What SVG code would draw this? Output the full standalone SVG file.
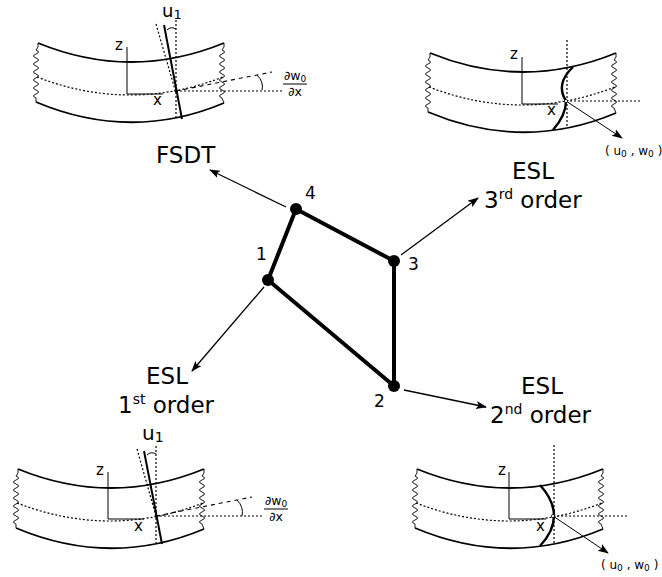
<svg xmlns="http://www.w3.org/2000/svg" xmlns:xlink="http://www.w3.org/1999/xlink" width="662" height="577" viewBox="0 0 662 577">
<style>
text{font-family:"DejaVu Sans",sans-serif;fill:#000}
.lab{font-size:23px}
.num{font-size:17px}
.small{font-size:12.5px}
.uw{font-size:12px}
.ax{font-size:15px}
.mid{text-anchor:middle}
.edge{stroke:#000;stroke-width:4;fill:none}
.arr{stroke:#000;stroke-width:1.3;fill:none;marker-end:url(#ah)}
.plate{stroke:#000;stroke-width:1.8;fill:none}
.wave{stroke:#000;stroke-width:.9;fill:none}
.dot{stroke:#000;stroke-width:1.2;stroke-dasharray:2 2;fill:none}
.dash{stroke:#000;stroke-width:1.1;stroke-dasharray:4 4;fill:none}
.thin{stroke:#000;stroke-width:1;fill:none}
.thick{stroke:#000;stroke-width:2;fill:none}
.bold{stroke:#000;stroke-width:2.4;fill:none}
</style>
<defs>
<marker id="ah" markerUnits="userSpaceOnUse" markerWidth="12" markerHeight="10" refX="10" refY="4" orient="auto"><path d="M0 0L11 4L0 8L2.5 4Z" fill="#000"/></marker>
<g id="plate">
<path class="plate" d="M38 43Q131 81 224 43"/>
<path class="plate" d="M36 102Q131 142 224 103"/>
<path class="wave" d="M38 43V47L36 50q5 2 0 4t0 4t0 4t0 4t0 4t0 4t0 4t0 4t0 4t0 4t0 4t0 4L36 102"/>
<path class="wave" d="M224 43V47L222 50q5 2 0 4t0 4t0 4t0 4t0 4t0 4t0 4t0 4t0 4t0 4t0 4t0 4L224 103"/>
<path class="dot" d="M37 77Q130 113 223 77"/>
</g>
</defs>
<g id="connectors">
<path class="edge" d="M268 280L296 209L394 261L394 386Z"/>
<path class="arr" d="M286 207L210 170"/>
<path class="arr" d="M401 255L478 198"/>
<path class="arr" d="M264 287L192 371"/>
<path class="arr" d="M404 390L486 407"/>
</g>
<g id="node1"><circle cx="268" cy="280" r="6"/><text class="num" x="256" y="260">1</text></g>
<g id="node2"><circle cx="394" cy="386" r="6"/><text class="num" x="374" y="407" font-size="16">2</text></g>
<g id="node3"><circle cx="394" cy="261" r="6"/><text class="num" x="408" y="270">3</text></g>
<g id="node4"><circle cx="296" cy="209" r="6"/><text class="num" x="305" y="199">4</text></g>
<g id="label-fsdt"><text class="lab" x="156" y="163">FSDT</text></g>
<g id="label-3rd"><text class="lab mid" x="533" y="179">ESL</text><text class="lab" x="484" y="208">3<tspan font-size="14" dy="-9">rd</tspan><tspan dy="9"> order</tspan></text></g>
<g id="label-1st"><text class="lab mid" x="167" y="384">ESL</text><text class="lab" x="118" y="413">1<tspan font-size="14" dy="-9">st</tspan><tspan dy="9"> order</tspan></text></g>
<g id="label-2nd"><text class="lab mid" x="542" y="394">ESL</text><text class="lab" x="490" y="423">2<tspan font-size="14" dy="-9">nd</tspan><tspan dy="9"> order</tspan></text></g>
<g id="panel-fsdt">
<use xlink:href="#plate" href="#plate"/>
<path class="thin" d="M127 94V47M127 94H163"/>
<path class="thick" d="M164 25L182 119"/>
<path class="dot" d="M176 20V118M156 24L176 93M176 91H282"/>
<path class="dash" d="M176 91L272 72"/>
<path class="thin" d="M257 75Q264 82 262 90M167 30Q171 26 176 29"/>
<circle cx="176" cy="91" r="1.5"/>
<text class="ax" x="115" y="50">z</text><text class="ax" x="153" y="105">x</text>
<text font-size="18" x="162" y="17">u<tspan font-size="13" dy="2">1</tspan></text>
<text class="small mid" x="295" y="80">∂w<tspan font-size="9" dy="2">0</tspan></text><path class="thin" d="M283 84H307"/><text class="small mid" x="295" y="96">∂x</text>
</g>
<g id="panel-3rd">
<use xlink:href="#plate" href="#plate" transform="translate(392 10)"/>
<path class="thin" d="M522 104V57M522 104H558"/>
<path class="dot" d="M567 40V128M566 101H642"/>
<path class="bold" d="M573 67Q555 84 566 101Q566 115 553 130"/>
<path class="thin" d="M566 101L622 138" marker-end="url(#ah)"/>
<circle cx="566" cy="101" r="1.6" fill="#fff" stroke="#000" stroke-width=".8"/>
<text class="ax" x="510" y="59">z</text><text class="ax" x="547" y="115">x</text>
<text class="uw" x="605" y="155">( u<tspan font-size="9" dy="2">0</tspan><tspan dy="-2"> , w</tspan><tspan font-size="9" dy="2">0</tspan><tspan dy="-2"> )</tspan></text>
</g>
<g id="panel-1st">
<use xlink:href="#plate" href="#plate" transform="translate(-20 426)"/>
<path class="thin" d="M108 519V472M108 519H144"/>
<path class="thick" d="M144 451L162 544"/>
<path class="dot" d="M156 446V543M137 449L156 516M156 516H262"/>
<path class="dash" d="M156 516L252 497"/>
<path class="thin" d="M237 500Q244 507 242 516M147 455Q151 451 156 454"/>
<circle cx="156" cy="516" r="1.5"/>
<text class="ax" x="96" y="475">z</text><text class="ax" x="134" y="531">x</text>
<text font-size="20" x="142" y="440">u<tspan font-size="14" dy="2">1</tspan></text>
<text class="small mid" x="276" y="505">∂w<tspan font-size="9" dy="2">0</tspan></text><path class="thin" d="M264 509H288"/><text class="small mid" x="276" y="521">∂x</text>
</g>
<g id="panel-2nd">
<use xlink:href="#plate" href="#plate" transform="translate(379 426)"/>
<path class="thin" d="M509 519V472M509 519H546"/>
<path class="dot" d="M554 445V543M553 516H627"/>
<path class="bold" d="M540 485Q568 516 540 546"/>
<path class="thin" d="M553 516L608 553" marker-end="url(#ah)"/>
<circle cx="553" cy="516" r="1.6" fill="#fff" stroke="#000" stroke-width=".8"/>
<text class="ax" x="498" y="475">z</text><text class="ax" x="536" y="531">x</text>
<text class="uw" x="601" y="569">( u<tspan font-size="9" dy="2">0</tspan><tspan dy="-2"> , w</tspan><tspan font-size="9" dy="2">0</tspan><tspan dy="-2"> )</tspan></text>
</g>
</svg>
